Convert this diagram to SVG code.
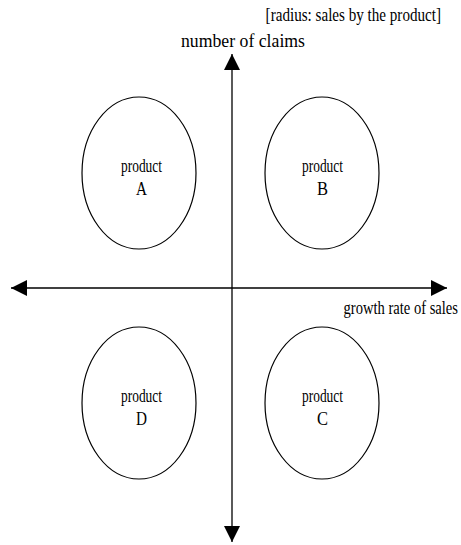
<svg xmlns="http://www.w3.org/2000/svg" width="461" height="545" viewBox="0 0 461 545">
<style>
text{font-family:"Liberation Serif","DejaVu Serif",serif;fill:#000;}
.lbl{font-size:18px;}
.nd{font-size:19px;}
ellipse{fill:none;stroke:#000;stroke-width:1.2;}
.ax{stroke:#000;stroke-width:1.3;fill:none;}
</style>
<defs>
<marker id="ah" viewBox="0 0 16 16" refX="16" refY="8" markerWidth="16" markerHeight="16" markerUnits="userSpaceOnUse" orient="auto">
<path d="M0,0 L16,8 L0,16 Z" fill="#000"/>
</marker>
</defs>
<text class="lbl" transform="translate(441,21) scale(0.84,1)" text-anchor="end">[radius: sales by the product]</text>
<text class="lbl" x="181" y="47" textLength="124" lengthAdjust="spacingAndGlyphs">number of claims</text>
<text class="lbl" transform="translate(458,314) scale(0.81,1)" text-anchor="end">growth rate of sales</text>
<g id="connectors">
<line class="ax" x1="232" y1="290" x2="232" y2="54" marker-end="url(#ah)"/>
<line class="ax" x1="232" y1="290" x2="232" y2="542" marker-end="url(#ah)"/>
<line class="ax" x1="232" y1="288" x2="11" y2="288" marker-end="url(#ah)"/>
<line class="ax" x1="232" y1="288" x2="447" y2="288" marker-end="url(#ah)"/>
</g>
<g id="productA">
<ellipse cx="139" cy="173" rx="57" ry="76"/>
<text class="nd" x="121" y="172" textLength="41" lengthAdjust="spacingAndGlyphs">product</text>
<text class="nd" x="136" y="195" textLength="11" lengthAdjust="spacingAndGlyphs">A</text>
</g>
<g id="productB">
<ellipse cx="322" cy="173" rx="57" ry="76"/>
<text class="nd" x="302" y="172" textLength="41" lengthAdjust="spacingAndGlyphs">product</text>
<text class="nd" x="317" y="195" textLength="11" lengthAdjust="spacingAndGlyphs">B</text>
</g>
<g id="productD">
<ellipse cx="139" cy="403" rx="57" ry="76"/>
<text class="nd" x="121" y="402" textLength="41" lengthAdjust="spacingAndGlyphs">product</text>
<text class="nd" x="136" y="425" textLength="11" lengthAdjust="spacingAndGlyphs">D</text>
</g>
<g id="productC">
<ellipse cx="322" cy="403" rx="57" ry="76"/>
<text class="nd" x="302" y="402" textLength="41" lengthAdjust="spacingAndGlyphs">product</text>
<text class="nd" x="317" y="425" textLength="11" lengthAdjust="spacingAndGlyphs">C</text>
</g>
</svg>
